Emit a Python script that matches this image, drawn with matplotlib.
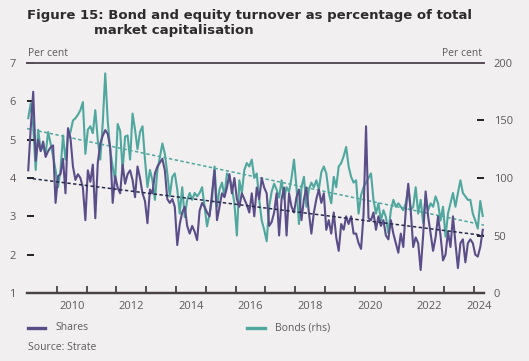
import numpy as np
import matplotlib
matplotlib.use("Agg")
import matplotlib.pyplot as plt
from matplotlib.lines import Line2D

# ---------------- data ----------------
start_year = 2009
shares = [
    4.2, 5.3, 6.25, 4.45, 5.0, 4.7, 4.95, 4.55, 4.7, 4.8, 4.85, 3.35,      # 2009
    4.05, 4.1, 4.5, 3.6, 5.3, 5.05, 4.3, 3.95, 4.1, 4.0, 3.75, 2.9,       # 2010
    4.2, 3.9, 4.35, 2.95, 4.4, 4.9, 5.1, 5.25, 5.15, 4.8, 3.35, 4.05,     # 2011
    3.75, 3.6, 4.35, 3.85, 4.1, 4.2, 3.95, 3.5, 4.3, 4.0, 3.6, 3.4,       # 2012
    2.82, 3.7, 3.6, 4.12, 4.3, 4.4, 4.5, 4.2, 3.45, 3.35, 3.45, 3.25,     # 2013
    2.25, 2.8, 3.1, 3.25, 2.75, 2.55, 2.75, 2.6, 2.38, 3.15, 3.35, 3.25,  # 2014
    3.1, 3.0, 3.6, 4.2, 2.9, 3.25, 3.6, 3.5, 3.75, 4.1, 3.6, 4.0,         # 2015
    3.45, 3.25, 3.6, 3.45, 3.3, 3.1, 3.6, 3.0, 3.75, 3.45, 4.0, 3.75,     # 2016
    3.6, 2.75, 2.85, 3.1, 3.6, 2.5, 3.45, 3.75, 2.5, 3.6, 3.25, 3.1,      # 2017
    3.5, 3.7, 2.9, 3.45, 3.75, 3.1, 2.55, 3.1, 3.45, 3.7, 3.35, 3.6,      # 2018
    2.65, 2.9, 2.55, 3.1, 2.45, 2.1, 2.8, 2.65, 3.0, 2.8, 3.0, 2.55,      # 2019
    2.55, 2.3, 2.15, 3.05, 5.35, 2.95, 2.9, 3.1, 2.65, 3.0, 2.75, 2.9,    # 2020
    2.5, 2.4, 2.9, 2.55, 2.3, 2.05, 2.55, 2.2, 3.15, 3.85, 3.15, 2.2,     # 2021
    2.45, 2.3, 1.6, 2.5, 3.65, 3.0, 2.55, 2.1, 2.45, 3.0, 2.5, 1.85,      # 2022
    2.0, 2.6, 2.2, 3.0, 2.3, 1.65, 2.3, 2.4, 1.8, 2.3, 2.4, 2.3,          # 2023
    2.0, 1.95, 2.2, 2.65,                                                 # 2024
]
bonds = [
    152, 165, 145, 107, 142, 124, 127, 121, 140, 130, 119, 107,   # 2009
    92, 107, 137, 116, 136, 140, 150, 152, 155, 159, 166, 121,    # 2010
    142, 145, 139, 159, 133, 116, 148, 191, 150, 124, 110, 98,    # 2011
    147, 141, 107, 136, 137, 116, 156, 142, 125, 140, 145, 116,   # 2012
    92, 107, 98, 81, 107, 118, 130, 121, 104, 84, 101, 104,       # 2013
    90, 69, 92, 66, 81, 87, 81, 87, 84, 87, 92, 75,               # 2014
    58, 69, 81, 110, 75, 90, 96, 84, 104, 101, 92, 78,            # 2015
    50, 98, 87, 107, 113, 110, 116, 100, 104, 81, 63, 55,         # 2016
    45, 75, 88, 95, 90, 83, 98, 82, 92, 88, 100, 116,             # 2017
    92, 60, 92, 101, 75, 90, 96, 92, 98, 90, 105, 110,            # 2018
    104, 87, 78, 101, 92, 110, 113, 119, 127, 110, 101, 96,       # 2019
    98, 69, 85, 92, 96, 100, 104, 81, 69, 78, 63, 72,             # 2020
    66, 52, 72, 81, 75, 78, 75, 72, 78, 92, 72, 75,               # 2021
    92, 69, 81, 61, 84, 72, 78, 75, 84, 78, 63, 75,               # 2022
    49, 69, 78, 87, 75, 87, 98, 87, 84, 81, 81, 69,               # 2023
    63, 56, 80, 67,                                               # 2024
]
# linear trend end points (start, end)
shares_trend = [4.0, 2.5]
bonds_trend = [143, 59]

left_ticks = [1, 2, 3, 4, 5, 6, 7]
right_ticks = [0, 50, 100, 150, 200]
year_labels = [2010, 2012, 2014, 2016, 2018, 2020, 2022, 2024]

# ---------------- style ----------------
BG = "#f1eff0"
C_SH = "#5a4d88"
C_BD = "#4fa79e"
C_SH_T = "#272a4c"
C_TXT = "#5e5a5c"
C_AX = "#4a4147"
plt.rcParams["font.family"] = ["Open Sans", "DejaVu Sans"]

fig = plt.figure(figsize=(5.29, 3.61), dpi=100, facecolor=BG)
W, H = 529, 361
ax_l, ax_r, ax_t, ax_b = 27, 484, 63, 293
ax = fig.add_axes([ax_l / W, 1 - ax_b / H, (ax_r - ax_l) / W, (ax_b - ax_t) / H])
ax2 = ax.twinx()

n = len(shares)
x = start_year + (np.arange(n) + 0.5) / 12.0
xmin = start_year
xmax = start_year + n / 12.0

ax.plot(x, shares, color=C_SH, lw=1.5, zorder=3, solid_joinstyle="round")
ax2.plot(x, bonds, color=C_BD, lw=1.5, zorder=2, solid_joinstyle="round")
ax.plot([xmin, xmax], shares_trend, color=C_SH_T, lw=1.1, ls=(0, (2.2, 1.6)), zorder=4)
ax2.plot([xmin, xmax], bonds_trend, color=C_BD, lw=1.1, ls=(0, (2.2, 1.6)), zorder=4)

ax.set_xlim(xmin, xmax)
ax.set_ylim(1, 7)
ax2.set_ylim(0, 200)
ax.set_zorder(ax2.get_zorder() + 1)
ax.patch.set_visible(False)
ax2.patch.set_facecolor(BG)

for a in (ax, ax2):
    for s in ("left", "right"):
        a.spines[s].set_visible(False)
    a.spines["top"].set_color("#5b5259")
    a.spines["top"].set_linewidth(1.3)
    a.spines["bottom"].set_color(C_AX)
    a.spines["bottom"].set_linewidth(1.6)

# x ticks at year boundaries, labels centred in each labelled year
ax.set_xticks(np.arange(start_year + 1, int(xmax) + 1))
ax.tick_params(axis="x", which="major", direction="in", length=5, width=1.3,
               color=C_AX, labelbottom=False)
mids = [(y + min(y + 1, xmax)) / 2 for y in year_labels]
ax.set_xticks(mids, minor=True)
ax.set_xticklabels([str(y) for y in year_labels], minor=True)
ax.tick_params(axis="x", which="minor", length=0, pad=6, labelsize=8, labelcolor=C_TXT)

ax.set_yticks(left_ticks)
ax.set_yticklabels([str(v) for v in left_ticks])
ax.tick_params(axis="y", direction="in", length=5, width=1.4, color="#222222",
               pad=8, labelsize=8, labelcolor=C_TXT)
ax2.set_yticks(right_ticks)
ax2.set_yticklabels([str(v) for v in right_ticks])
ax2.tick_params(axis="y", direction="in", length=5, width=1.4, color="#222222",
                pad=7, labelsize=8, labelcolor=C_TXT)

# texts
title_kw = dict(fontsize=9.5, fontweight="bold", color="#2e2b2d", va="center", ha="left",
                family=["DejaVu Sans"])
fig.text(27 / W, 1 - 15 / H, "Figure 15: Bond and equity turnover as percentage of total", **title_kw)
fig.text(94 / W, 1 - 30.5 / H, "market capitalisation", **title_kw)
fig.text(28 / W, 1 - 53 / H, "Per cent", fontsize=7.5, color=C_TXT, va="center", ha="left")
fig.text(482 / W, 1 - 53 / H, "Per cent", fontsize=7.5, color=C_TXT, va="center", ha="right")

# legend
fig.add_artist(Line2D([28 / W, 45 / W], [1 - 328 / H] * 2, color=C_SH, lw=2.4))
fig.text(55 / W, 1 - 328 / H, "Shares", fontsize=7.5, color=C_TXT, va="center", ha="left")
fig.add_artist(Line2D([247 / W, 265 / W], [1 - 328 / H] * 2, color=C_BD, lw=2.4))
fig.text(275 / W, 1 - 328 / H, "Bonds (rhs)", fontsize=7.5, color=C_TXT, va="center", ha="left")
fig.text(28 / W, 1 - 347 / H, "Source: Strate", fontsize=7.5, color=C_TXT, va="center", ha="left")

fig.savefig("out.png", dpi=100, facecolor=BG)
